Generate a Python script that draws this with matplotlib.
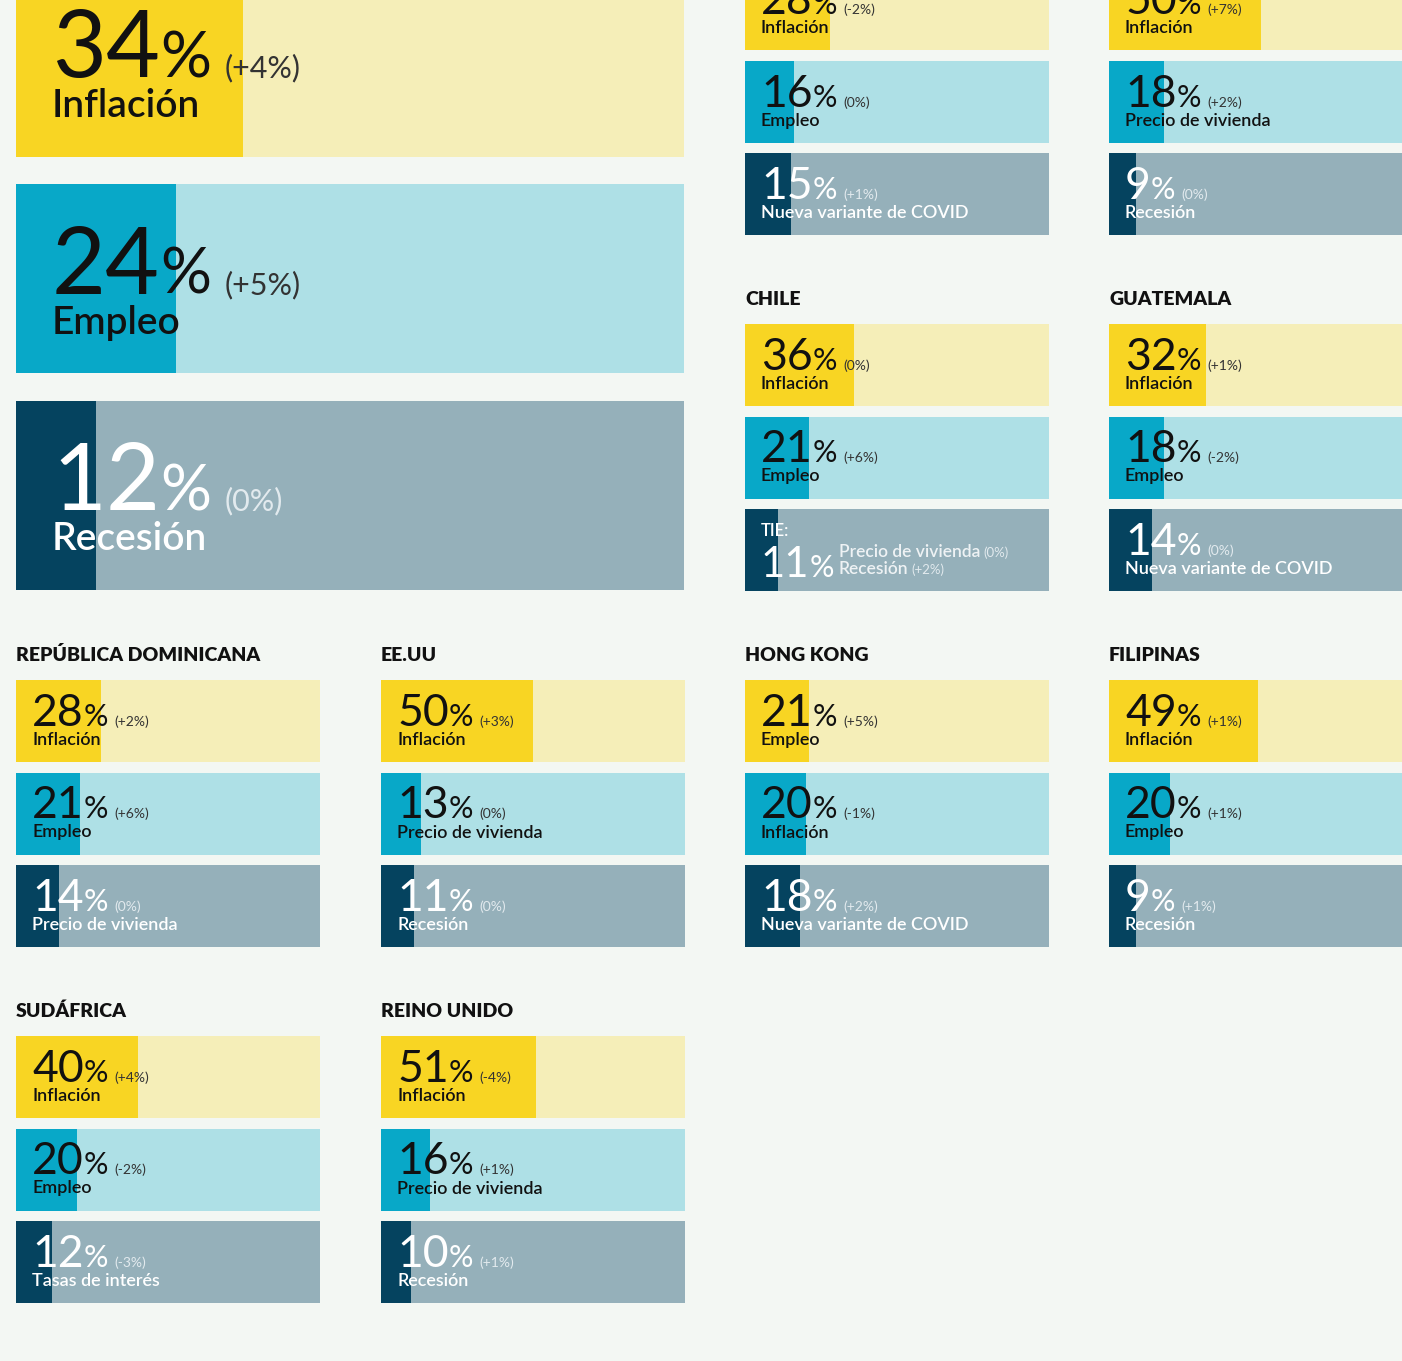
import matplotlib.pyplot as plt

plt.rcParams['font.family'] = ['Lato', 'DejaVu Sans']

W, H = 1402, 1361
BG = '#F3F7F3'
DARK = ['#F8D523', '#08A8C8', '#05435F']
LIGHT = ['#F5EEB8', '#AEE0E6', '#95B0BA']
TEXT = ['#111111', '#111111', '#FFFFFF']
SUBTEXT = ['#333333', '#333333', '#E2EAEE']

# global panel
global_values = [34, 24, 12]
global_changes = ['+4%', '+5%', '0%']
global_labels = ['Inflación', 'Empleo', 'Recesión']

# country panels (the first two are cut off at the top of the picture)
country_names = ['', '', 'CHILE', 'GUATEMALA', 'REPÚBLICA DOMINICANA', 'EE.UU',
                 'HONG KONG', 'FILIPINAS', 'SUDÁFRICA', 'REINO UNIDO']
country_values = [[28, 16, 15], [50, 18, 9], [36, 21, 11], [32, 18, 14],
                  [28, 21, 14], [50, 13, 11], [21, 20, 18], [49, 20, 9],
                  [40, 20, 12], [51, 16, 10]]
country_changes = [['-2%', '0%', '+1%'], ['+7%', '+2%', '0%'], ['0%', '+6%', None],
                   ['+1%', '-2%', '0%'], ['+2%', '+6%', '0%'], ['+3%', '0%', '0%'],
                   ['+5%', '-1%', '+2%'], ['+1%', '+1%', '+1%'], ['+4%', '-2%', '-3%'],
                   ['-4%', '+1%', '+1%']]
country_labels = [['Inflación', 'Empleo', 'Nueva variante de COVID'],
                  ['Inflación', 'Precio de vivienda', 'Recesión'],
                  ['Inflación', 'Empleo', None],
                  ['Inflación', 'Empleo', 'Nueva variante de COVID'],
                  ['Inflación', 'Empleo', 'Precio de vivienda'],
                  ['Inflación', 'Precio de vivienda', 'Recesión'],
                  ['Empleo', 'Inflación', 'Nueva variante de COVID'],
                  ['Inflación', 'Empleo', 'Recesión'],
                  ['Inflación', 'Empleo', 'Tasas de interés'],
                  ['Inflación', 'Precio de vivienda', 'Recesión']]

# Chile, third row: tie between two concerns
tie_prefix = 'TIE:'
tie_labels = ['Precio de vivienda', 'Recesión']
tie_changes = ['0%', '+2%']

# layout (pixels)
panel_x = [745, 1109, 745, 1109, 16, 381, 745, 1109, 16, 381]
panel_top = [-32, -32, 324, 324, 680, 680, 680, 680, 1036, 1036]

BIG = dict(num=67, pct=46, delta=22, label=28, dx=36, num_dy=-15, label_dy=-55,
           pct_gap=0, delta_gap=14)
SMALL = dict(num=32, pct=22, delta=10, label=13, dx=16, num_dy=-5, label_dy=-24,
             pct_gap=0, delta_gap=6)
LABEL_WEIGHT = 600


def number(ax, row, value, change, st, dy, color, subcolor):
    num = ax.annotate(str(value), xy=(0, row), xytext=(st['dx'], dy),
                      textcoords='offset pixels', va='baseline', ha='left',
                      fontsize=st['num'], color=color, annotation_clip=False)
    pct = ax.annotate('%', xy=(1, row), xycoords=(num, 'data'),
                      xytext=(st['pct_gap'], dy), textcoords='offset pixels',
                      va='baseline', ha='left', fontsize=st['pct'], color=color)
    if change is not None:
        ax.annotate('(' + change + ')', xy=(1, row), xycoords=(pct, 'data'),
                    xytext=(st['delta_gap'], dy), textcoords='offset pixels',
                    va='baseline', ha='left', fontsize=st['delta'], color=subcolor)
    return pct


def panel(fig, x, top, width, row_h, pitch, values, changes, labels, title, st, tie=False):
    h = row_h / pitch
    span = 2 * pitch + row_h
    ax = fig.add_axes([x / W, 1 - (top + span) / H, width / W, span / H])
    rows = list(range(3))
    ax.barh(rows, [100] * 3, height=h, color=LIGHT)
    ax.barh(rows, values, height=h, color=DARK)
    ax.set_xlim(0, 100)
    ax.set_ylim(2 + h / 2, -h / 2)
    ax.axis('off')

    for i in rows:
        if tie and i == 2:
            ax.annotate(tie_prefix, xy=(0, i), xytext=(st['dx'], 14),
                        textcoords='offset pixels', va='baseline', fontsize=12,
                        color=TEXT[i], fontweight=LABEL_WEIGHT, annotation_clip=False)
            pct = number(ax, i, values[i], None, dict(st, num=30), -27, TEXT[i], SUBTEXT[i])
            for k, dy in enumerate([-7, -24]):
                lab = ax.annotate(tie_labels[k], xy=(1, i), xycoords=(pct, 'data'),
                                  xytext=(5, dy), textcoords='offset pixels',
                                  va='baseline', fontsize=12.5, color='#EEF2F4',
                                  fontweight=LABEL_WEIGHT)
                ax.annotate('(' + tie_changes[k] + ')', xy=(1, i), xycoords=(lab, 'data'),
                            xytext=(3, dy), textcoords='offset pixels',
                            va='baseline', fontsize=9.5, color=SUBTEXT[i])
            continue
        number(ax, i, values[i], changes[i], st, st['num_dy'], TEXT[i], SUBTEXT[i])
        ax.annotate(labels[i], xy=(0, i), xytext=(st['dx'], st['label_dy']),
                    textcoords='offset pixels', va='baseline', ha='left',
                    fontsize=st['label'], color=TEXT[i], fontweight=LABEL_WEIGHT,
                    annotation_clip=False)
    if title:
        ax.annotate(title, xy=(0, -h / 2), xytext=(0, 19), textcoords='offset pixels',
                    va='baseline', ha='left', fontsize=14, fontweight='heavy',
                    color='#111111', annotation_clip=False)
    return ax


fig = plt.figure(figsize=(W / 100, H / 100), dpi=100, facecolor=BG)

panel(fig, 16, -32, 668, 189, 216.5, global_values, global_changes, global_labels,
      None, BIG)

for c in range(len(country_names)):
    panel(fig, panel_x[c], panel_top[c], 304, 82, 92.5, country_values[c],
          country_changes[c], country_labels[c], country_names[c], SMALL,
          tie=(country_names[c] == 'CHILE'))

fig.savefig('out.png', dpi=100, facecolor=BG)
